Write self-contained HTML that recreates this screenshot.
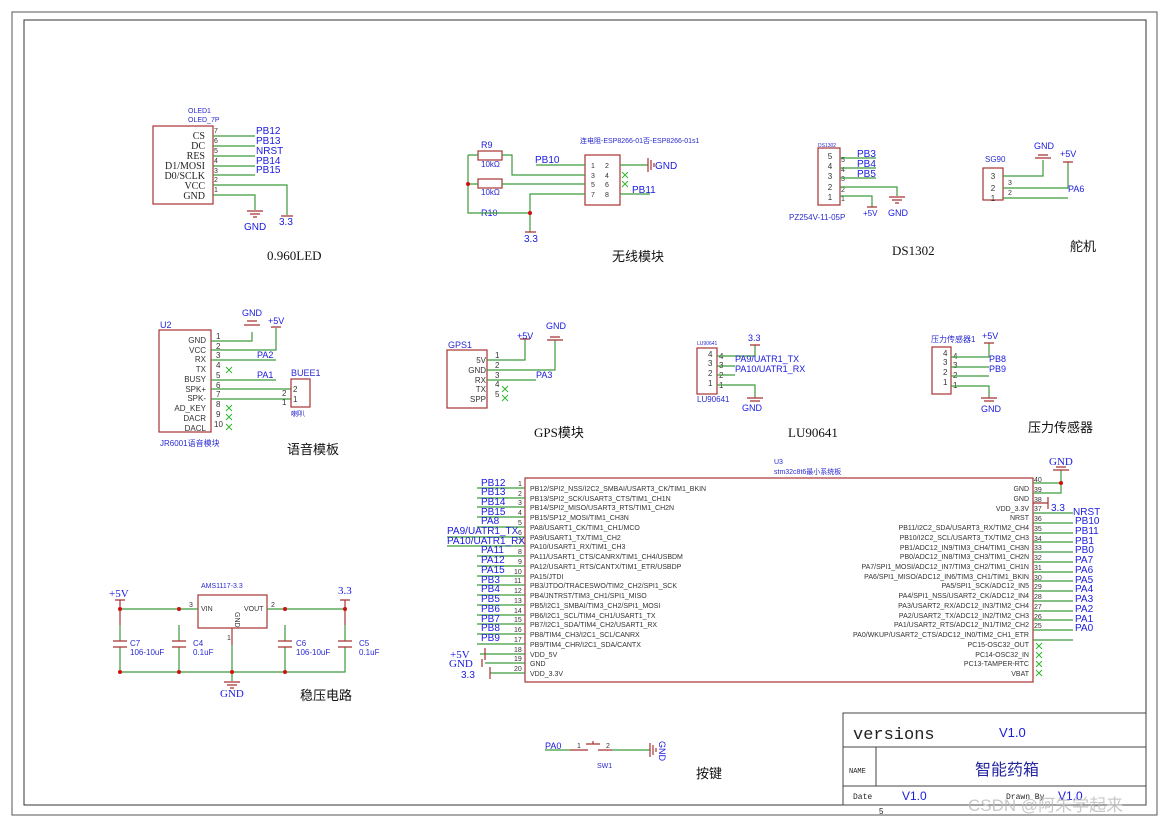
<!DOCTYPE html>
<html><head><meta charset="utf-8"><style>
body{margin:0;background:#fff}
svg{display:block}
.b{fill:none;stroke:#a83232;stroke-width:1.2}
.r{stroke:#a83232;stroke-width:1.2}
.g{stroke:#3c9a3c;stroke-width:1.2;fill:none}
.n{fill:#1a1ae0;font-family:"Liberation Sans",sans-serif;font-size:10px}
.p{fill:#333;font-family:"Liberation Sans",sans-serif;font-size:7px}
.ps{fill:#222;font-family:"Liberation Serif",serif;font-size:10px}
.pn{fill:#333;font-family:"Liberation Sans",sans-serif;font-size:8px}
.s{fill:#2a2ad0;font-family:"Liberation Sans","Noto Sans CJK SC",sans-serif;font-size:7px}
.t{fill:#111;font-family:"Liberation Serif","Noto Sans CJK SC",serif;font-size:13px}
.x{stroke:#2db82d;stroke-width:1}
.d{fill:#d01010}
</style></head><body>
<svg width="1170" height="825" viewBox="0 0 1170 825" xmlns="http://www.w3.org/2000/svg">
<rect x="12" y="12" width="1145" height="803" fill="none" stroke="#555" stroke-width="1"/>
<rect x="24" y="20" width="1122" height="785" fill="none" stroke="#333" stroke-width="1"/>

<!-- OLED -->
<text class="s" x="188" y="113">OLED1</text><text class="s" x="188" y="122">OLED_7P</text>
<rect class="b" x="153" y="126" width="60" height="78"/>
<g class="ps" text-anchor="end">
<text x="205" y="139">CS</text><text x="205" y="149">DC</text><text x="205" y="159">RES</text><text x="205" y="169">D1/MOSI</text><text x="205" y="179">D0/SCLK</text><text x="205" y="189">VCC</text><text x="205" y="199">GND</text></g>
<g class="p"><text x="214" y="133">7</text><text x="214" y="143">6</text><text x="214" y="153">5</text><text x="214" y="163">4</text><text x="214" y="173">3</text><text x="214" y="182">2</text><text x="214" y="192">1</text></g>
<g class="g"><path d="M213 136H255M213 146H255M213 156H255M213 166H255M213 175H255M213 185H287V215M213 195H255V210"/></g>
<g class="n"><text x="256" y="134">PB12</text><text x="256" y="144">PB13</text><text x="256" y="154">NRST</text><text x="256" y="164">PB14</text><text x="256" y="173">PB15</text><text x="244" y="230">GND</text><text x="279" y="225">3.3</text></g>
<path class="r" d="M247 211H263M250 214H260M253 217H257M281 216H293"/>
<text class="t" x="267" y="260">0.960LED</text>

<!-- wireless -->
<text class="s" x="580" y="143">连电阻-ESP8266-01否-ESP8266-01s1</text>
<text class="n" x="481" y="148" style="font-size:9px">R9</text><rect class="b" x="478" y="151" width="24" height="9"/><text class="s" x="481" y="167" style="font-size:8px">10kΩ</text>
<rect class="b" x="478" y="179" width="24" height="9"/><text class="s" x="481" y="195" style="font-size:8px">10kΩ</text>
<text class="n" x="481" y="216" style="font-size:9px">R10</text>
<rect class="b" x="585" y="155" width="35" height="50"/>
<g class="p"><text x="591" y="168">1</text><text x="605" y="168">2</text><text x="591" y="178">3</text><text x="605" y="178">4</text><text x="591" y="187">5</text><text x="605" y="187">6</text><text x="591" y="197">7</text><text x="605" y="197">8</text></g>
<g class="g"><path d="M468 155H478M502 155H512V175H585M468 155V213H530M468 184H478M502 184H585M530 213V194H585M530 213V232M536 165H585M620 165H648M620 194H650"/></g>
<circle class="d" cx="468" cy="184" r="2"/><circle class="d" cx="530" cy="213" r="2"/>
<path class="r" d="M648 158V172M651 160V170M654 163V167M525 232H536"/>
<g class="x"><path d="M622 172l6 6M628 172l-6 6M622 181l6 6M628 181l-6 6"/></g>
<g class="n"><text x="535" y="163">PB10</text><text x="655" y="169">GND</text><text x="632" y="193">PB11</text><text x="524" y="242">3.3</text></g>
<text class="t" x="612" y="261">无线模块</text>

<!-- DS1302 -->
<text class="s" x="818" y="147" style="font-size:5px">DS1302</text>
<rect class="b" x="818" y="148" width="22" height="57"/>
<g class="pn" text-anchor="middle"><text x="830" y="159">5</text><text x="830" y="169">4</text><text x="830" y="179">3</text><text x="830" y="190">2</text><text x="830" y="200">1</text></g>
<g class="p"><text x="841" y="162">5</text><text x="841" y="172">4</text><text x="841" y="181">3</text><text x="841" y="192">2</text><text x="841" y="201">1</text></g>
<g class="g"><path d="M840 158H876M840 168H876M840 178H876M840 187H897V196M840 196H872V207"/></g>
<path class="r" d="M889 197H905M892 200H902M895 203H899M867 207H877"/>
<g class="n"><text x="857" y="157">PB3</text><text x="857" y="167">PB4</text><text x="857" y="177">PB5</text><text x="863" y="216" style="font-size:8px">+5V</text><text x="888" y="216" style="font-size:9px">GND</text></g>
<text class="s" x="789" y="220" style="font-size:8px">PZ254V-11-05P</text>
<text class="t" x="892" y="255">DS1302</text>

<!-- SG90 -->
<text class="s" x="985" y="162" style="font-size:8px">SG90</text>
<rect class="b" x="983" y="168" width="20" height="32"/>
<g class="pn" text-anchor="middle"><text x="993" y="179">3</text><text x="993" y="191">2</text><text x="993" y="201">1</text></g>
<g class="g"><path d="M1003 176H1043V160M1003 188H1068V162M1003 198H1068"/></g>
<path class="r" d="M1035 158H1051M1038 155H1048M1063 162H1073"/>
<g class="n"><text x="1034" y="149" style="font-size:9px">GND</text><text x="1060" y="157" style="font-size:9px">+5V</text><text x="1068" y="192" style="font-size:9px">PA6</text><text x="1008" y="185" class="p">3</text><text x="1008" y="195" class="p">2</text></g>
<text class="t" x="1070" y="251">舵机</text>

<!-- voice -->
<text class="s" x="160" y="328" style="font-size:9px">U2</text>
<rect class="b" x="159" y="330" width="52" height="102"/>
<g class="pn" text-anchor="end">
<text x="206" y="343">GND</text><text x="206" y="353">VCC</text><text x="206" y="362">RX</text><text x="206" y="372">TX</text><text x="206" y="382">BUSY</text><text x="206" y="392">SPK+</text><text x="206" y="401">SPK-</text><text x="206" y="411">AD_KEY</text><text x="206" y="421">DACR</text><text x="206" y="431">DACL</text></g>
<g class="pn"><text x="216" y="339">1</text><text x="216" y="349">2</text><text x="216" y="358">3</text><text x="216" y="368">4</text><text x="216" y="378">5</text><text x="216" y="388">6</text><text x="216" y="397">7</text><text x="216" y="407">8</text><text x="216" y="417">9</text><text x="214" y="427">10</text></g>
<g class="g"><path d="M211 341H252V332M211 350H276V328M211 360H276M211 380H276M211 389H291M211 399H291"/></g>
<path class="r" d="M244 325H260M247 321H257M271 327H281"/>
<g class="x"><path d="M226 367l6 6M232 367l-6 6M226 405l6 6M232 405l-6 6M226 414l6 6M232 414l-6 6M226 424l6 6M232 424l-6 6"/></g>
<g class="n" style="font-size:9px"><text x="242" y="316">GND</text><text x="268" y="324">+5V</text><text x="257" y="358">PA2</text><text x="257" y="378">PA1</text></g>
<text class="s" x="291" y="376" style="font-size:9px">BUEE1</text>
<rect class="b" x="291" y="379" width="19" height="28"/>
<g class="pn"><text x="293" y="392">2</text><text x="293" y="402">1</text><text x="282" y="396">2</text><text x="282" y="405">1</text></g>
<text class="s" x="291" y="416">喇叭</text>
<text class="s" x="160" y="446" style="font-size:8px">JR6001语音模块</text>
<text class="t" x="287" y="454">语音模板</text>

<!-- GPS -->
<text class="s" x="448" y="348" style="font-size:9px">GPS1</text>
<rect class="b" x="447" y="350" width="40" height="58"/>
<g class="pn" text-anchor="end"><text x="486" y="363">5V</text><text x="486" y="373">GND</text><text x="486" y="383">RX</text><text x="486" y="392">TX</text><text x="486" y="402">SPP</text></g>
<g class="pn"><text x="495" y="358">1</text><text x="495" y="368">2</text><text x="495" y="378">3</text><text x="495" y="387">4</text><text x="495" y="397">5</text></g>
<g class="g"><path d="M487 360H525V339M487 370H555V340M487 380H536"/></g>
<path class="r" d="M520 339H530M547 340H563M550 337H560"/>
<g class="x"><path d="M502 386l6 6M508 386l-6 6M502 395l6 6M508 395l-6 6"/></g>
<g class="n" style="font-size:9px"><text x="517" y="339">+5V</text><text x="546" y="329">GND</text><text x="536" y="378">PA3</text></g>
<text class="t" x="534" y="437">GPS模块</text>

<!-- LU90641 -->
<text class="s" x="697" y="345" style="font-size:5px">LU90641</text>
<rect class="b" x="697" y="348" width="20" height="46"/>
<g class="pn"><text x="708" y="357">4</text><text x="708" y="366">3</text><text x="708" y="376">2</text><text x="708" y="386">1</text><text x="719" y="359">4</text><text x="719" y="368">3</text><text x="719" y="378">2</text><text x="719" y="388">1</text></g>
<g class="g"><path d="M717 356H755V345M717 366H735M717 375H735M717 385H755V398"/></g>
<path class="r" d="M750 345H760M747 398H763M750 401H760"/>
<g class="n" style="font-size:9px"><text x="748" y="341">3.3</text><text x="735" y="362">PA9/UATR1_TX</text><text x="735" y="372">PA10/UATR1_RX</text><text x="742" y="411">GND</text></g>
<text class="s" x="697" y="402" style="font-size:8px">LU90641</text>
<text class="t" x="788" y="437">LU90641</text>

<!-- pressure -->
<text class="s" x="931" y="342" style="font-size:8px">压力传感器1</text>
<rect class="b" x="932" y="347" width="19" height="47"/>
<g class="pn"><text x="943" y="356">4</text><text x="943" y="365">3</text><text x="943" y="375">2</text><text x="943" y="385">1</text><text x="953" y="359">4</text><text x="953" y="368">3</text><text x="953" y="378">2</text><text x="953" y="388">1</text></g>
<g class="g"><path d="M951 357H989V343M951 367H989M951 376H989M951 386H989V398"/></g>
<path class="r" d="M984 343H994M981 398H997M984 401H994"/>
<g class="n" style="font-size:9px"><text x="982" y="339">+5V</text><text x="989" y="362">PB8</text><text x="989" y="372">PB9</text><text x="981" y="412">GND</text></g>
<text class="t" x="1028" y="432">压力传感器</text>

<!-- STM32 -->
<text class="s" x="774" y="464">U3</text><text class="s" x="774" y="474">stm32c8t6最小系统板</text>
<rect class="b" x="525" y="478" width="508" height="204"/>
<g class="p">
<text x="530" y="491">PB12/SPI2_NSS/I2C2_SMBAI/USART3_CK/TIM1_BKIN</text>
<text x="530" y="501">PB13/SPI2_SCK/USART3_CTS/TIM1_CH1N</text>
<text x="530" y="510">PB14/SPI2_MISO/USART3_RTS/TIM1_CH2N</text>
<text x="530" y="520">PB15/SP12_MOSI/TIM1_CH3N</text>
<text x="530" y="530">PA8/USART1_CK/TIM1_CH1/MCO</text>
<text x="530" y="540">PA9/USART1_TX/TIM1_CH2</text>
<text x="530" y="549">PA10/USART1_RX/TIM1_CH3</text>
<text x="530" y="559">PA11/USART1_CTS/CANRX/TIM1_CH4/USBDM</text>
<text x="530" y="569">PA12/USART1_RTS/CANTX/TIM1_ETR/USBDP</text>
<text x="530" y="579">PA15/JTDI</text>
<text x="530" y="588">PB3/JTDO/TRACESWO/TIM2_CH2/SPI1_SCK</text>
<text x="530" y="598">PB4/JNTRST/TIM3_CH1/SPI1_MISO</text>
<text x="530" y="608">PB5/I2C1_SMBAI/TIM3_CH2/SPI1_MOSI</text>
<text x="530" y="618">PB6/I2C1_SCL/TIM4_CH1/USART1_TX</text>
<text x="530" y="627">PB7/I2C1_SDA/TIM4_CH2/USART1_RX</text>
<text x="530" y="637">PB8/TIM4_CH3/I2C1_SCL/CANRX</text>
<text x="530" y="647">PB9/TIM4_CHR/I2C1_SDA/CANTX</text>
<text x="530" y="657">VDD_5V</text>
<text x="530" y="666">GND</text>
<text x="530" y="676">VDD_3.3V</text>
</g>
<g class="p" text-anchor="end">
<text x="1029" y="491">GND</text><text x="1029" y="501">GND</text><text x="1029" y="511">VDD_3.3V</text><text x="1029" y="520">NRST</text>
<text x="1029" y="530">PB11/I2C2_SDA/USART3_RX/TIM2_CH4</text>
<text x="1029" y="540">PB10/I2C2_SCL/USART3_TX/TIM2_CH3</text>
<text x="1029" y="550">PB1/ADC12_IN9/TIM3_CH4/TIM1_CH3N</text>
<text x="1029" y="559">PB0/ADC12_IN8/TIM3_CH3/TIM1_CH2N</text>
<text x="1029" y="569">PA7/SPI1_MOSI/ADC12_IN7/TIM3_CH2/TIM1_CH1N</text>
<text x="1029" y="579">PA6/SPI1_MISO/ADC12_IN6/TIM3_CH1/TIM1_BKIN</text>
<text x="1029" y="588">PA5/SPI1_SCK/ADC12_IN5</text>
<text x="1029" y="598">PA4/SPI1_NSS/USART2_CK/ADC12_IN4</text>
<text x="1029" y="608">PA3/USART2_RX/ADC12_IN3/TIM2_CH4</text>
<text x="1029" y="618">PA2/USART2_TX/ADC12_IN2/TIM2_CH3</text>
<text x="1029" y="627">PA1/USART2_RTS/ADC12_IN1/TIM2_CH2</text>
<text x="1029" y="637">PA0/WKUP/USART2_CTS/ADC12_IN0/TIM2_CH1_ETR</text>
<text x="1029" y="647">PC15-OSC32_OUT</text><text x="1029" y="657">PC14-OSC32_IN</text><text x="1029" y="666">PC13-TAMPER-RTC</text><text x="1029" y="676">VBAT</text>
</g>
<g class="g">
<path d="M477 488H525M477 498H525M477 507H525M477 517H525M477 527H525M447 537H525M447 546H525M477 556H525M477 566H525M477 576H525M477 585H525M477 595H525M477 605H525M477 615H525M477 624H525M477 634H525M477 644H525M480 654H525M485 663H525M490 673H525"/>
<path d="M1033 483H1061V493H1033M1061 483V470M1033 513H1073M1033 523H1073M1033 533H1073M1033 542H1073M1033 552H1073M1033 562H1073M1033 572H1073M1033 581H1073M1033 591H1073M1033 601H1073M1033 611H1073M1033 620H1073M1033 630H1073M1033 640H1073"/>
</g>
<path class="r" d="M1053 470H1069M1056 467H1066M1033 503H1048M1048 497V509M485 648V660M482 659V667M490 667V679"/>
<circle class="d" cx="1061" cy="483" r="2"/>
<g class="x"><path d="M1036 643l6 6M1042 643l-6 6M1036 652l6 6M1042 652l-6 6M1036 661l6 6M1042 661l-6 6M1036 670l6 6M1042 670l-6 6"/></g>
<g class="n">
<text x="481" y="486">PB12</text><text x="481" y="495">PB13</text><text x="481" y="505">PB14</text><text x="481" y="515">PB15</text><text x="481" y="524">PA8</text><text x="447" y="534">PA9/UATR1_TX</text><text x="447" y="544">PA10/UATR1_RX</text><text x="481" y="553">PA11</text><text x="481" y="563">PA12</text><text x="481" y="573">PA15</text><text x="481" y="583">PB3</text><text x="481" y="592">PB4</text><text x="481" y="602">PB5</text><text x="481" y="612">PB6</text><text x="481" y="622">PB7</text><text x="481" y="631">PB8</text><text x="481" y="641">PB9</text>
<text x="450" y="658" style="font-family:'Liberation Serif',serif;font-size:11px">+5V</text><text x="449" y="667" style="font-family:'Liberation Serif',serif;font-size:11px">GND</text><text x="461" y="678">3.3</text>
<text x="1049" y="465" style="font-family:'Liberation Serif',serif;font-size:11px">GND</text><text x="1051" y="511">3.3</text>
<text x="1073" y="515">NRST</text><text x="1075" y="524">PB10</text><text x="1075" y="534">PB11</text><text x="1075" y="544">PB1</text><text x="1075" y="553">PB0</text><text x="1075" y="563">PA7</text><text x="1075" y="573">PA6</text><text x="1075" y="583">PA5</text><text x="1075" y="592">PA4</text><text x="1075" y="602">PA3</text><text x="1075" y="612">PA2</text><text x="1075" y="622">PA1</text><text x="1075" y="631">PA0</text>
</g>
<g class="p">
<text x="518" y="486">1</text><text x="518" y="496">2</text><text x="518" y="505">3</text><text x="518" y="515">4</text><text x="518" y="525">5</text><text x="518" y="535">6</text><text x="518" y="544">7</text><text x="518" y="554">8</text><text x="518" y="564">9</text><text x="514" y="574">10</text><text x="514" y="583">11</text><text x="514" y="593">12</text><text x="514" y="603">13</text><text x="514" y="613">14</text><text x="514" y="622">15</text><text x="514" y="632">16</text><text x="514" y="642">17</text><text x="514" y="652">18</text><text x="514" y="661">19</text><text x="514" y="671">20</text>
<text x="1034" y="482">40</text><text x="1034" y="492">39</text><text x="1034" y="502">38</text><text x="1034" y="511">37</text><text x="1034" y="521">36</text><text x="1034" y="531">35</text><text x="1034" y="541">34</text><text x="1034" y="550">33</text><text x="1034" y="560">32</text><text x="1034" y="570">31</text><text x="1034" y="580">30</text><text x="1034" y="589">29</text><text x="1034" y="599">28</text><text x="1034" y="609">27</text><text x="1034" y="619">26</text><text x="1034" y="628">25</text>
</g>

<!-- power -->
<text class="s" x="201" y="588">AMS1117-3.3</text>
<rect class="b" x="198" y="595" width="69" height="33"/>
<text class="p" x="201" y="611">VIN</text><text class="p" x="244" y="611">VOUT</text>
<text class="p" x="0" y="0" transform="translate(235,612) rotate(90)">GND</text>
<text class="p" x="189" y="607">3</text><text class="p" x="271" y="607">2</text><text class="p" x="227" y="640">1</text>
<g class="g"><path d="M120 609H198M267 609H345M120 625V641M179 625V641M285 625V641M345 625V641M120 647V672H345V647M179 647V672M285 647V672M232 645V681"/></g>
<path class="r" d="M120 600V625M345 600V625M115 600H125M340 600H350M113 641H127M113 647H127M172 641H186M172 647H186M278 641H292M278 647H292M338 641H352M338 647H352M232 628V645M224 682H240M227 685H237M230 688H234"/>
<g class="d"><circle cx="120" cy="609" r="2"/><circle cx="179" cy="609" r="2"/><circle cx="285" cy="609" r="2"/><circle cx="345" cy="609" r="2"/><circle cx="120" cy="672" r="2"/><circle cx="179" cy="672" r="2"/><circle cx="232" cy="672" r="2"/><circle cx="285" cy="672" r="2"/></g>
<g class="s" style="font-size:8px"><text x="130" y="646">C7</text><text x="130" y="655">106-10uF</text><text x="193" y="646">C4</text><text x="193" y="655">0.1uF</text><text x="296" y="646">C6</text><text x="296" y="655">106-10uF</text><text x="359" y="646">C5</text><text x="359" y="655">0.1uF</text></g>
<g class="n" style="font-family:'Liberation Serif',serif;font-size:11px"><text x="109" y="597">+5V</text><text x="338" y="594">3.3</text><text x="220" y="697">GND</text></g>
<text class="t" x="300" y="700">稳压电路</text>

<!-- button -->
<g class="g"><path d="M545 750H570M612 750H650"/></g>
<path class="r" d="M570 750H588M598 750H612M586 744H600M593 741V744M650 743V757M653 745V755M656 748V752"/>
<text class="p" x="577" y="748">1</text><text class="p" x="606" y="748">2</text>
<text class="n" x="545" y="749" style="font-size:9px">PA0</text>
<text class="s" x="597" y="768">SW1</text>
<text class="n" x="0" y="0" transform="translate(659,741) rotate(90)" style="font-size:9px">GND</text>
<text class="t" x="696" y="778">按键</text>

<!-- title block -->
<g stroke="#444" stroke-width="1" fill="none"><rect x="843" y="713" width="303" height="92"/><path d="M843 747H1146M843 786H1146M876 747V786"/></g>
<text x="853" y="739" style="font-family:'Liberation Mono',monospace;font-size:17px;fill:#222">versions</text>
<text x="999" y="737" class="n" style="font-size:13px">V1.0</text>
<text x="849" y="773" style="font-family:'Liberation Mono',monospace;font-size:7px;fill:#222">NAME</text>
<text x="975" y="775" class="n" style="font-family:'Liberation Sans','Noto Sans CJK SC',sans-serif;font-size:16px;fill:#2525a0">智能药箱</text>
<text x="853" y="799" style="font-family:'Liberation Mono',monospace;font-size:8px;fill:#222">Date</text>
<text x="902" y="800" class="n" style="font-size:12px">V1.0</text>
<text x="1006" y="799" style="font-family:'Liberation Mono',monospace;font-size:8px;fill:#222">Drawn By</text>
<text x="1058" y="800" class="n" style="font-size:12px">V1.0</text>
<text x="879" y="814" style="font-family:'Liberation Sans',sans-serif;font-size:8px;fill:#222">5</text>
<text x="968" y="811" style="font-family:'Liberation Sans','Noto Sans CJK SC',sans-serif;font-size:17px;fill:#bbb;opacity:0.8">CSDN @阿朱学起来</text>
</svg>
</body></html>
